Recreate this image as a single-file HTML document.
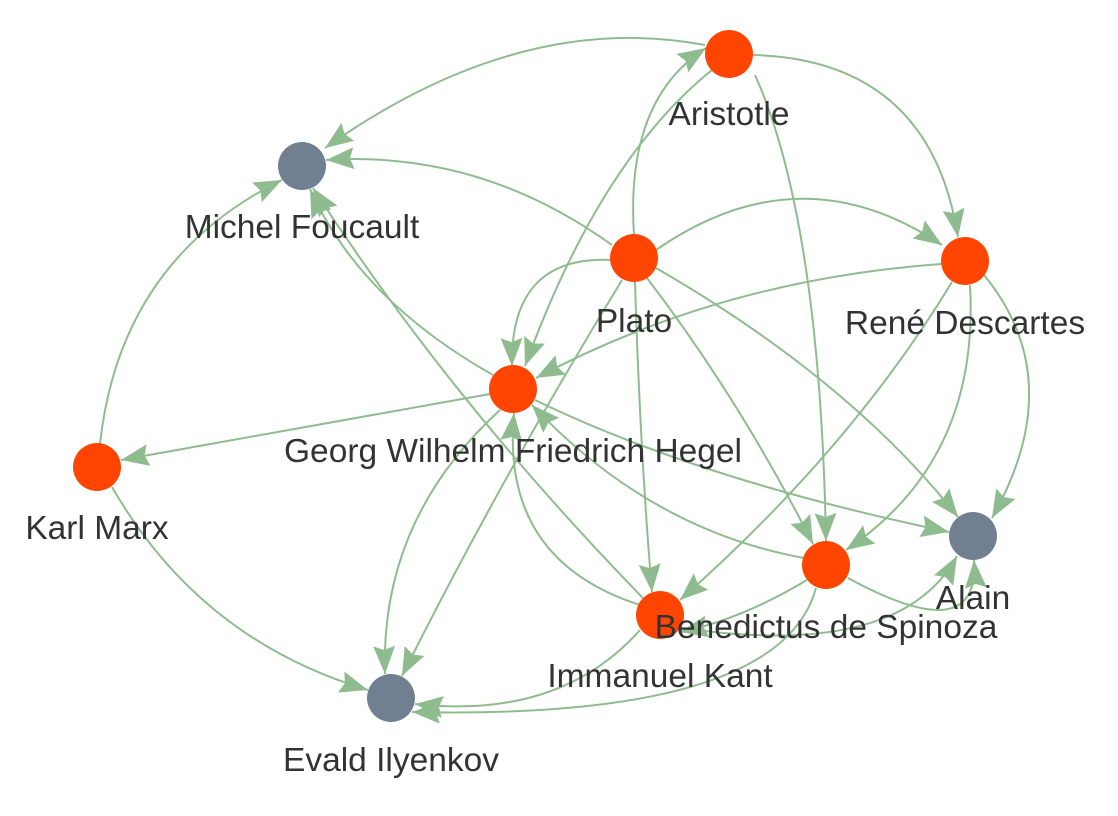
<!DOCTYPE html>
<html><head><meta charset="utf-8"><style>
html,body{margin:0;padding:0;background:#fff;}
svg{display:block}
text{font-family:"Liberation Sans",Arial,sans-serif;font-size:33.5px;fill:#333;text-anchor:middle}
</style></head><body>
<svg width="1118" height="816" viewBox="0 0 1118 816" xmlns="http://www.w3.org/2000/svg">
<defs>
<marker id="a" viewBox="0 0 14 11" refX="14" refY="5.5" markerWidth="28" markerHeight="22" markerUnits="userSpaceOnUse" orient="auto">
<path d="M0,0 L14,5.5 L0,11 L2,5.5 z" fill="#8fbc8f"/>
</marker>
</defs>
<g fill="none" stroke="#8fbc8f" stroke-width="2" marker-end="url(#a)">
<path d="M705,45 Q520,10 325,148"/>
<path d="M753,55 Q930,60 958,237"/>
<path d="M755,75 Q820,220 826,541"/>
<path d="M712,70 Q600,160 525,366"/>
<path d="M634,235 Q625,100 706,48"/>
<path d="M612,245 Q480,150 326,160"/>
<path d="M656,250 Q800,150 942,245"/>
<path d="M612,260 Q510,255 512,366"/>
<path d="M635,282 Q640,450 652,592"/>
<path d="M647,278 Q740,400 813,544"/>
<path d="M656,268 Q850,380 958,517"/>
<path d="M622,280 Q500,480 402,676"/>
<path d="M941,264 Q720,280 536,378"/>
<path d="M952,282 Q850,450 680,600"/>
<path d="M970,285 Q980,460 846,550"/>
<path d="M984,275 Q1070,380 992,518"/>
<path d="M490,394 L121,460"/>
<path d="M493,375 Q360,300 310,189"/>
<path d="M643,598 Q450,400 313,188"/>
<path d="M535,400 Q700,480 949,532"/>
<path d="M500,410 Q380,520 385,674"/>
<path d="M804,558 Q650,530 532,405"/>
<path d="M640,605 Q500,560 514,413"/>
<path d="M100,444 Q120,260 282,180"/>
<path d="M112,487 Q200,640 368,690"/>
<path d="M848,578 Q980,650 974,560"/>
<path d="M682,628 Q900,660 957,556"/>
<path d="M807,580 Q740,620 680,632"/>
<path d="M816,588 Q780,720 412,712"/>
<path d="M640,630 Q560,720 415,704"/>
</g>
<g>
<circle cx="729" cy="54" r="24" fill="#ff4500"/>
<circle cx="302" cy="166" r="24" fill="#708090"/>
<circle cx="634" cy="258" r="24" fill="#ff4500"/>
<circle cx="965" cy="261" r="24" fill="#ff4500"/>
<circle cx="513" cy="389" r="24" fill="#ff4500"/>
<circle cx="97" cy="467" r="24" fill="#ff4500"/>
<circle cx="973" cy="536" r="24" fill="#708090"/>
<circle cx="826" cy="565" r="24" fill="#ff4500"/>
<circle cx="660" cy="615" r="24" fill="#ff4500"/>
<circle cx="391" cy="698" r="24" fill="#708090"/>
</g>
<text x="729" y="125">Aristotle</text>
<text x="302" y="238">Michel Foucault</text>
<text x="634" y="332">Plato</text>
<text x="965" y="334">René Descartes</text>
<text x="513" y="462">Georg Wilhelm Friedrich Hegel</text>
<text x="97" y="539">Karl Marx</text>
<text x="973" y="609">Alain</text>
<text x="826" y="638">Benedictus de Spinoza</text>
<text x="660" y="687">Immanuel Kant</text>
<text x="391" y="771">Evald Ilyenkov</text>
</svg>
</body></html>
